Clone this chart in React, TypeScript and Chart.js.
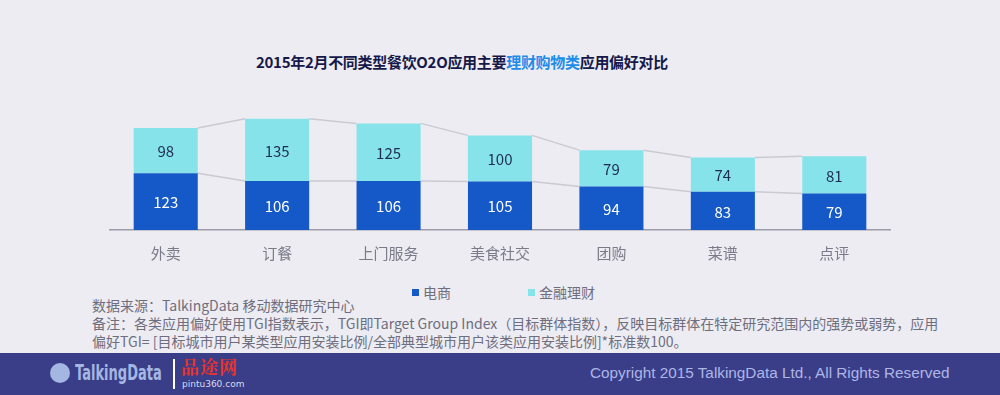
import React, { useEffect, useRef } from "react";
import { Chart, registerables } from "chart.js";

Chart.register(...registerables);

const categories = ["外卖", "订餐", "上门服务", "美食社交", "团购", "菜谱", "点评"];
const seriesNames = ["电商", "金融理财"];
const ecommerce = [123, 106, 106, 105, 94, 83, 79];
const finance = [98, 135, 125, 100, 79, 74, 81];

const BG = "#EDECF2";
const BLUE = "#1559C8";
const CYAN = "#86E3EA";
const labelColors = ["#FFFFFF", "#1E2D50"];
const FONT = '"Noto Sans CJK SC", "Noto Sans", sans-serif';

const connectorPlugin = {
  id: "connectors",
  beforeDatasetsDraw(chart: any) {
    const ctx = chart.ctx;
    ctx.save();
    ctx.strokeStyle = "#CACAD3";
    ctx.lineWidth = 1.5;
    chart.data.datasets.forEach((_ds: any, di: number) => {
      const meta = chart.getDatasetMeta(di);
      const bars = meta.data;
      for (let i = 0; i < bars.length - 1; i++) {
        const a = bars[i].getProps(["x", "y", "width"], true);
        const b = bars[i + 1].getProps(["x", "y", "width"], true);
        ctx.beginPath();
        ctx.moveTo(a.x + a.width / 2, a.y);
        ctx.lineTo(b.x - b.width / 2, b.y);
        ctx.stroke();
      }
    });
    ctx.restore();
  },
};

const valueLabelPlugin = {
  id: "valueLabels",
  afterDatasetsDraw(chart: any) {
    const ctx = chart.ctx;
    ctx.save();
    ctx.font = `15px ${FONT}`;
    ctx.textAlign = "center";
    ctx.textBaseline = "middle";
    chart.data.datasets.forEach((ds: any, di: number) => {
      const meta = chart.getDatasetMeta(di);
      ctx.fillStyle = labelColors[di];
      meta.data.forEach((bar: any, i: number) => {
        const p = bar.getProps(["x", "y", "base"], true);
        ctx.fillText(String(ds.data[i]), p.x, (p.y + p.base) / 2 + 1);
      });
    });
    ctx.restore();
  },
};

const CANVAS_H = 182;

function BarChart() {
  const ref = useRef<HTMLCanvasElement>(null);
  useEffect(() => {
    if (!ref.current) return;
    const chart = new Chart(ref.current, {
      type: "bar",
      data: {
        labels: categories,
        datasets: [
          { label: seriesNames[0], data: ecommerce, backgroundColor: BLUE },
          { label: seriesNames[1], data: finance, backgroundColor: CYAN },
        ],
      },
      options: {
        responsive: false,
        animation: false,
        devicePixelRatio: 1,
        layout: { padding: { left: 110, right: 110, top: 10, bottom: 6 } },
        plugins: { legend: { display: false }, tooltip: { enabled: false } },
        datasets: { bar: { categoryPercentage: 1, barPercentage: 0.575 } },
        scales: {
          x: {
            stacked: true,
            grid: { display: false, drawTicks: false },
            border: { display: true, color: "#9C9CA8", width: 1.5 },
            ticks: { color: "#7A7A88", font: { family: FONT, size: 15 }, padding: 14 },
          },
          y: { stacked: true, display: false, min: 0, max: 260 },
        },
      },
      plugins: [connectorPlugin, valueLabelPlugin],
    });
    return () => chart.destroy();
  }, []);
  return <canvas ref={ref} width={1000} height={CANVAS_H} style={{ display: "block" }} />;
}

export default function App() {
  const noteStyle: React.CSSProperties = {
    position: "absolute",
    left: 92,
    fontSize: 14,
    lineHeight: "18px",
    color: "#6E6E7E",
    whiteSpace: "nowrap",
  };
  const legendColors = [BLUE, CYAN];
  const legendX = [412, 528];
  return (
    <div
      style={{
        position: "fixed",
        left: 0,
        top: 0,
        width: 1000,
        height: 395,
        background: BG,
        overflow: "hidden",
        fontFamily: FONT,
      }}
    >
      <div
        style={{
          position: "absolute",
          left: 256,
          top: 52,
          fontSize: 15,
          lineHeight: "20px",
          fontWeight: 700,
          color: "#15194A",
          whiteSpace: "nowrap",
          letterSpacing: -0.3,
        }}
      >
        2015年2月不同类型餐饮O2O应用主要<span style={{ color: "#1E8CEB" }}>理财购物类</span>应用偏好对比
      </div>
      <div style={{ position: "absolute", left: 0, top: 100, width: 1000, height: CANVAS_H }}>
        <BarChart />
      </div>
      {seriesNames.map((n, i) => (
        <div key={n} style={{ position: "absolute", left: legendX[i], top: 283, height: 18, display: "flex", alignItems: "center", whiteSpace: "nowrap" }}>
          <span style={{ display: "inline-block", width: 7, height: 7, background: legendColors[i], marginRight: 4 }} />
          <span style={{ fontSize: 14, color: "#6E6E7E", lineHeight: "18px" }}>{n}</span>
        </div>
      ))}
      <div style={{ ...noteStyle, top: 296 }}>数据来源：TalkingData 移动数据研究中心</div>
      <div style={{ ...noteStyle, top: 314 }}>
        备注：各类应用偏好使用TGI指数表示，TGI即Target Group Index（目标群体指数），反映目标群体在特定研究范围内的强势或弱势，应用
      </div>
      <div style={{ ...noteStyle, top: 332 }}>偏好TGI= [目标城市用户某类型应用安装比例/全部典型城市用户该类应用安装比例]*标准数100。</div>
      <div style={{ position: "absolute", left: 0, top: 353, width: 1000, height: 42, background: "#3A3E88" }}>
        <div style={{ position: "absolute", left: 50, top: 10, width: 20, height: 20, borderRadius: 10, background: "#A4B6E2" }} />
        <div
          style={{
            position: "absolute",
            left: 75,
            top: 8,
            fontFamily: '"DejaVu Sans", sans-serif',
            fontWeight: 700,
            fontSize: 21,
            lineHeight: "24px",
            color: "#A4B6E2",
            whiteSpace: "nowrap",
            transform: "scaleX(0.62)",
            transformOrigin: "left center",
          }}
        >
          TalkingData
        </div>
        <div style={{ position: "absolute", left: 173, top: 6, width: 1.5, height: 30, background: "#FFFFFF" }} />
        <div style={{ position: "absolute", left: 181, top: 2, fontSize: 18, lineHeight: "22px", color: "#E8332B", fontFamily: '"Noto Serif CJK SC", "Noto Sans CJK SC", serif', fontWeight: 700, letterSpacing: 1 }}>
          品途网
        </div>
        <div style={{ position: "absolute", left: 182, top: 26, fontSize: 9, lineHeight: "11px", color: "#D8DAEE", fontFamily: '"DejaVu Sans", sans-serif' }}>
          pintu360.com
        </div>
        <div
          style={{
            position: "absolute",
            left: 590,
            top: 10,
            fontFamily: '"Liberation Sans", Arial, sans-serif',
            fontSize: 15.3,
            lineHeight: "20px",
            color: "#AEB6E6",
            whiteSpace: "nowrap",
          }}
        >
          Copyright 2015 TalkingData Ltd., All Rights Reserved
        </div>
      </div>
    </div>
  );
}
